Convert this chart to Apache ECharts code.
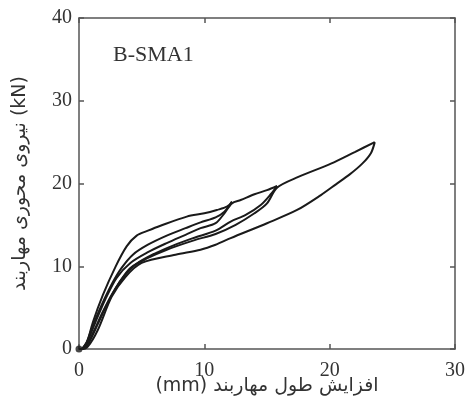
<!DOCTYPE html>
<html>
<head>
<meta charset="utf-8">
<script src="https://cdn.jsdelivr.net/npm/echarts@6/dist/echarts.min.js"></script>
<style>html,body{margin:0;padding:0;background:#fff}#c{width:472px;height:403px}</style>
</head>
<body>
<div id="c"></div>
<script>
// Branches of the hysteresis curve: [displacement (mm), force (kN)]
var loading1 = [[0,0],[0.3,0.1],[0.6,0.6],[1.1,3.2],[1.9,6.5],[2.9,9.9],[3.8,12.4],[4.6,13.7],[5.5,14.3],[6.5,14.9],[8.6,16.0],[10.0,16.4],[11.0,16.8],[11.8,17.2],[12.2,17.8]];
var unloading1 = [[12.2,17.8],[11.6,16.6],[10.9,15.9],[9.7,15.3],[8.5,14.6],[7.0,13.7],[5.5,12.6],[4.3,11.4],[3.4,9.8],[2.6,7.8],[1.8,5.3],[1.1,2.8],[0.6,0.8],[0.3,0.1]];
var loading2 = [[0.3,0.1],[0.7,1.0],[1.3,3.2],[2.1,6.0],[3.0,8.6],[4.1,10.4],[5.5,11.7],[7.0,12.8],[8.5,13.8],[9.7,14.6],[10.9,15.2],[11.6,16.4],[12.2,17.6],[12.9,18.0],[14.0,18.7],[15.0,19.2],[15.8,19.7]];
var unloading2 = [[15.8,19.7],[15.3,18.7],[14.5,17.4],[13.3,16.2],[12.1,15.4],[10.9,14.3],[9.1,13.4],[7.5,12.5],[6.0,11.5],[4.6,10.3],[3.6,8.8],[2.7,6.8],[1.9,4.5],[1.2,2.2],[0.6,0.4],[0.3,0]];
var loading3 = [[0.3,0],[0.8,0.8],[1.5,3.0],[2.3,5.6],[3.2,8.0],[4.1,9.8],[5.5,11.0],[7.0,12.0],[9.1,13.1],[10.9,13.9],[12.5,15.0],[14.0,16.4],[15.0,17.6],[15.8,19.5],[17.5,20.8],[20.1,22.4],[22.0,23.8],[23.6,25.0]];
var unloading3 = [[23.6,25.0],[23.3,23.7],[22.6,22.4],[21.6,21.1],[20.5,19.9],[19.3,18.6],[17.4,16.8],[15.0,15.2],[12.1,13.4],[10.9,12.6],[9.7,12.0],[7.7,11.4],[5.0,10.4],[3.7,8.7],[2.6,6.3],[1.5,2.3],[0.7,0.3],[0.2,0],[0,0]];
var branches = [loading1, unloading1, loading2, unloading2, loading3, unloading3];

var xTicks = [0, 10, 20, 30];
var yTicks = [0, 10, 20, 30, 40];
var xName = '(mm) افزایش طول مهاربند';
var yName = 'نیروی محوری مهاربند (kN)';
var panelLabel = 'B-SMA1';

var chart = echarts.init(document.getElementById('c'), null, {renderer: 'canvas'});
var axisColor = '#555';
var labelFont = {color: '#333', fontFamily: 'Liberation Serif', fontSize: 20};
var series = branches.map(function (b) {
  return {type: 'line', data: b, xAxisIndex: 0, yAxisIndex: 0, showSymbol: false, smooth: 0.3,
    lineStyle: {color: '#1a1a1a', width: 2}, animation: false};
});
series.push({type: 'scatter', data: [[0,0]], symbolSize: 7, itemStyle: {color: '#1a1a1a'}, animation: false});
chart.setOption({
  animation: false,
  title: {text: panelLabel, left: 108, top: 39, textStyle: {fontFamily: 'Liberation Serif', fontWeight: 'normal', fontSize: 22, color: '#333'}},
  grid: {left: 79, top: 18, right: 17, bottom: 54, show: false, containLabel: false, outerBoundsMode: 'none'},
  xAxis: [{
    type: 'value', min: xTicks[0], max: xTicks[xTicks.length-1], interval: 10,
    axisLine: {onZero: false, lineStyle: {color: axisColor, width: 1.5}},
    axisTick: {inside: true, length: 5, lineStyle: {color: axisColor, width: 1.5}},
    axisLabel: Object.assign({margin: 12}, labelFont),
    splitLine: {show: false},
    name: xName, nameLocation: 'middle', nameGap: 28, nameMoveOverlap: false,
    nameTextStyle: {fontFamily: 'DejaVu Sans', fontSize: 19, color: '#333'}
  }, {
    type: 'value', position: 'top', min: 0, max: 30, interval: 10,
    axisLine: {show: true, onZero: false, lineStyle: {color: axisColor, width: 1.5}},
    axisTick: {show: true, inside: true, length: 5, lineStyle: {color: axisColor, width: 1.5}},
    axisLabel: {show: false}, splitLine: {show: false}
  }],
  yAxis: [{
    type: 'value', min: yTicks[0], max: yTicks[yTicks.length-1], interval: 10,
    axisLine: {show: true, onZero: false, lineStyle: {color: axisColor, width: 1.5}},
    axisTick: {show: true, inside: true, length: 5, lineStyle: {color: axisColor, width: 1.5}},
    axisLabel: Object.assign({margin: 7}, labelFont),
    splitLine: {show: false},
    name: yName, nameLocation: 'middle', nameGap: 49, nameRotate: 90, nameMoveOverlap: false,
    nameTextStyle: {fontFamily: 'DejaVu Sans', fontSize: 19, color: '#333'}
  }, {
    type: 'value', position: 'right', min: 0, max: 40, interval: 10,
    axisLine: {show: true, onZero: false, lineStyle: {color: axisColor, width: 1.5}},
    axisTick: {show: true, inside: true, length: 5, lineStyle: {color: axisColor, width: 1.5}},
    axisLabel: {show: false}, splitLine: {show: false}
  }],
  series: series
});
</script>
</body>
</html>
